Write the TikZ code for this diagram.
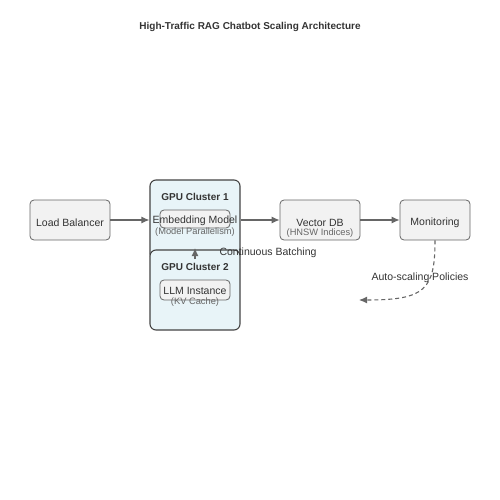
\documentclass[tikz,border=0pt]{standalone}
\usepackage{fontspec}
\setmainfont{Liberation Sans}
\usepackage{tikz}
\usetikzlibrary{arrows.meta}
\usepackage{xcolor}
\definecolor{boxfill}{HTML}{F2F2F2}
\definecolor{boxline}{HTML}{666666}
\definecolor{gpufill}{HTML}{E8F4F8}
\definecolor{gpuline}{HTML}{444444}
\definecolor{txtcol}{HTML}{333333}
\definecolor{subcol}{HTML}{666666}
\begin{document}
\begin{tikzpicture}[x=1pt,y=-1pt]

\tikzset{block/.style = {shape=rectangle,rounded corners=4pt,draw=boxline,fill=boxfill,line width=0.8pt,inner sep=0pt}}
\tikzset{cluster/.style = {shape=rectangle,rounded corners=6pt,draw=gpuline,fill=gpufill,line width=1.1pt,minimum width=90pt,minimum height=80pt,inner sep=0pt}}
\tikzset{inner/.style = {shape=rectangle,rounded corners=4pt,draw=boxline,fill=boxfill,line width=0.8pt,minimum width=70pt,inner sep=0pt}}
\tikzset{txt/.style = {text=txtcol,font=\fontsize{10.5}{12}\selectfont,inner sep=0pt,yshift=-1.5pt}}
\tikzset{subtxt/.style = {text=subcol,font=\fontsize{9.3}{10}\selectfont,inner sep=0pt,yshift=-1pt}}
\tikzset{head/.style = {text=txtcol,font=\fontsize{10}{12}\selectfont\bfseries,inner sep=0pt,yshift=-1pt}}
\tikzset{edge/.style = {-{Latex[length=8pt,width=7pt]},draw=boxline,line width=1.1pt}}

\useasboundingbox (0,0) rectangle (500,500);
\node[head] (title) at (250,26) {High-Traffic RAG Chatbot Scaling Architecture};

\node[block,minimum width=80pt,minimum height=40pt] (lb) at (70,220) {};
\node[txt] (lbt) at (70,221) {Load Balancer};

\node[cluster] (gpu1) at (195,220) {};
\node[head] (gpu1t) at (195,196) {GPU Cluster 1};
\node[inner,minimum height=18pt] (emb) at (195,219) {};
\node[txt] (embt) at (195,219.5) {Embedding Model};
\node[subtxt] (embs) at (195,231.5) {(Model Parallelism)};

\node[cluster] (gpu2) at (195,290) {};
\node[head] (gpu2t) at (195,266) {GPU Cluster 2};
\node[inner,minimum height=20pt] (llm) at (195,290) {};
\node[txt] (llmt) at (195,289.5) {LLM Instance};
\node[subtxt] (llms) at (195,301.5) {(KV Cache)};

\node[block,minimum width=80pt,minimum height=40pt] (vdb) at (320,220) {};
\node[txt] (vdbt) at (320,221) {Vector DB};
\node[subtxt] (vdbs) at (320,232) {(HNSW Indices)};

\node[block,minimum width=70pt,minimum height=40pt] (mon) at (435,220) {};
\node[txt] (mont) at (435,221) {Monitoring};

\coordinate (batchfrom) at (195,259);
\coordinate (batchto) at (195,248);
\coordinate (scaleto) at (359,300);

%edges
\draw[edge] (lb.east) to (gpu1.west);
\draw[edge] (gpu1.east) to (vdb.west);
\draw[edge] (vdb.east) to (mon.west);
\draw[edge] (batchfrom) to (batchto);
\node[txt] (batch) at (268,251.5) {Continuous Batching};
\draw[edge,dash pattern=on 4pt off 3pt] (mon.south) .. controls (435,290) and (425,300) .. (scaleto);
\node[txt] (scale) at (420,276.5) {Auto-scaling Policies};
\end{tikzpicture}
\end{document}
